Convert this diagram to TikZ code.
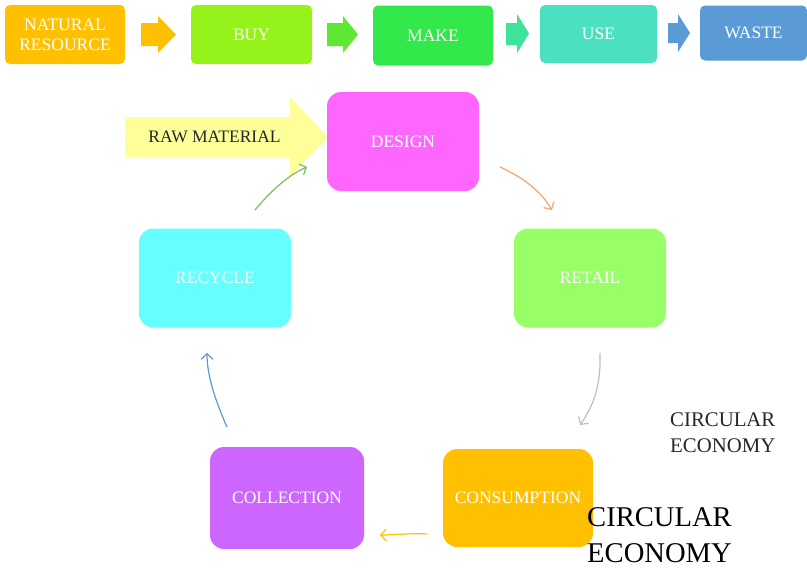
\documentclass[tikz,border=0pt]{standalone}
\usepackage{fontspec}
\setmainfont{Liberation Serif}
\usetikzlibrary{arrows.meta}
\definecolor{nrC}{HTML}{FFC000}
\definecolor{buyC}{HTML}{95F21B}
\definecolor{makeC}{HTML}{33E84A}
\definecolor{useC}{HTML}{4BE0C0}
\definecolor{wasteC}{HTML}{5B9BD5}
\definecolor{arTwo}{HTML}{5EE832}
\definecolor{arThree}{HTML}{3EE39A}
\definecolor{designC}{HTML}{FF66FF}
\definecolor{retailC}{HTML}{99FF66}
\definecolor{consC}{HTML}{FFC000}
\definecolor{collC}{HTML}{CC66FF}
\definecolor{recyC}{HTML}{66FFFF}
\definecolor{rawC}{HTML}{FFFF99}
\definecolor{orangeL}{HTML}{F4A46C}
\definecolor{grayL}{HTML}{BFBFBF}
\definecolor{blueL}{HTML}{5B9BD5}
\definecolor{greenL}{HTML}{7DBB5C}
\definecolor{labelC}{HTML}{262626}
\tikzset{
  topbox/.style={rectangle, rounded corners=5pt, inner sep=0pt, text=white, align=center,
    font=\fontsize{17.5}{20}\selectfont},
  cycbox/.style={rectangle, rounded corners=14pt, inner sep=0pt, text=white, align=center,
    minimum width=152pt, minimum height=99pt, font=\fontsize{17.5}{20}\selectfont},
  cycarrow/.style={line width=1.2pt, -{Straight Barb[length=5.5pt,width=12pt]}}
}
\begin{document}
\begin{tikzpicture}[x=1pt,y=-1pt]
\useasboundingbox (0,0) rectangle (807,568);
% top row
\node[topbox, fill=nrC, minimum width=120pt, minimum height=59pt] (nr) at (65,34.5) {NATURAL\\RESOURCE};
\node[topbox, fill=buyC, minimum width=121pt, minimum height=59pt] (buy) at (251.5,34.5) {BUY};
\node[topbox, fill=makeC, minimum width=120pt, minimum height=60pt] (make) at (433,35.5) {MAKE};
\node[topbox, fill=useC, minimum width=117pt, minimum height=58pt] (use) at (598.5,34) {USE};
\node[topbox, fill=wasteC, minimum width=107pt, minimum height=55pt] (waste) at (753.5,33) {WASTE};
% block arrows
\fill[nrC] (141,23) -- (158,23) -- (158,16) -- (176,34.5) -- (158,53) -- (158,46) -- (141,46) -- cycle;
\fill[arTwo] (327,23) -- (343,23) -- (343,16) -- (358,34.5) -- (343,53) -- (343,46) -- (327,46) -- cycle;
\fill[arThree] (506,23) -- (517,23) -- (517,14) -- (529,33.5) -- (517,53) -- (517,45) -- (506,45) -- cycle;
\fill[wasteC] (668,23) -- (678,23) -- (678,14) -- (690,33) -- (678,52) -- (678,43) -- (668,43) -- cycle;
% raw material arrow
\fill[rawC] (125,117) -- (290,117) -- (290,97) -- (328,137) -- (290,177) -- (290,157) -- (125,157) -- cycle;
\node[font=\fontsize{17.5}{20}\selectfont, text=labelC, inner sep=0pt] (raw) at (214.5,137) {RAW MATERIAL};
% cycle boxes
\node[cycbox, fill=designC] (design) at (403,141.5) {DESIGN};
\node[cycbox, fill=retailC] (retail) at (590,278) {RETAIL};
\node[cycbox, fill=consC, minimum width=150pt, minimum height=98pt] (cons) at (518,498) {CONSUMPTION};
\node[cycbox, fill=collC, minimum width=154pt, minimum height=102pt] (coll) at (287,498) {COLLECTION};
\node[cycbox, fill=recyC] (recy) at (215,278) {RECYCLE};
% cycle connectors
\coordinate (a1) at (500,167); \coordinate (a2) at (552,210);
\coordinate (b1) at (600,353); \coordinate (b2) at (580,425);
\coordinate (c1) at (427,534); \coordinate (c2) at (380,535);
\coordinate (d1) at (227,427); \coordinate (d2) at (207,353);
\coordinate (e1) at (255,210); \coordinate (e2) at (307,167);
\draw[cycarrow, orangeL] (a1) .. controls (522,177) and (540,190) .. (a2);
\draw[cycarrow, grayL] (b1) .. controls (601,385) and (594,405) .. (b2);
\draw[cycarrow, nrC] (c1) .. controls (410,533) and (395,535) .. (c2);
\draw[cycarrow, blueL] (d1) .. controls (215,400) and (207,375) .. (d2);
\draw[cycarrow, greenL] (e1) .. controls (270,192) and (288,175) .. (e2);
% labels
\node[anchor=north west, inner sep=0pt, align=left, text=labelC,
  font=\fontsize{20.8}{26}\selectfont] (lab1) at (670,413) {CIRCULAR\\ECONOMY};
\node[anchor=north west, inner sep=0pt, align=left, text=black,
  font=\fontsize{28.6}{36}\selectfont] (lab2) at (587,507) {CIRCULAR\\ECONOMY};
\end{tikzpicture}
\end{document}
